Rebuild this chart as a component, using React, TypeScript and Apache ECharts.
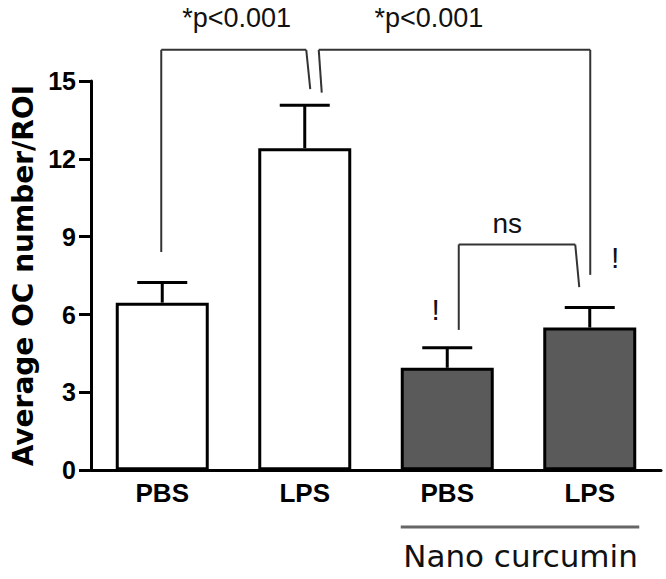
import React, { useEffect, useRef } from "react";
import * as echarts from "echarts";

const categories = ["PBS", "LPS", "PBS", "LPS"];
const means = [6.46, 12.41, 3.95, 5.5];
const upper = [7.24, 14.07, 4.72, 6.27];
const barFills = ["#ffffff", "#ffffff", "#5a5a5a", "#5a5a5a"];
const yTicks = { min: 0, max: 15, interval: 3 };
const yTitle = "Average OC number/ROI";
const groupLabel = "Nano curcumin";
const pLabel = "*p<0.001";
const nsLabel = "ns";

export default function App() {
  const ref = useRef<HTMLDivElement>(null);
  useEffect(() => {
    if (!ref.current) return;
    const chart = echarts.init(ref.current, null, { renderer: "svg" });
    const lineStyle = { stroke: "#333", lineWidth: 2 };
    chart.setOption({
      animation: false,
      grid: { left: 91, right: 5, top: 81, bottom: 108.7 },
      xAxis: {
        type: "category",
        data: categories,
        axisLine: { lineStyle: { color: "#000", width: 3 } },
        axisTick: { show: false },
        axisLabel: {
          color: "#000",
          fontFamily: "Liberation Sans",
          fontWeight: "bold",
          fontSize: 26,
          margin: 10,
        },
      },
      yAxis: {
        type: "value",
        min: yTicks.min,
        max: yTicks.max,
        interval: yTicks.interval,
        splitLine: { show: false },
        axisLine: { show: true, lineStyle: { color: "#000", width: 3 } },
        axisTick: { show: true, length: 12, lineStyle: { color: "#000", width: 3 } },
        axisLabel: {
          color: "#000",
          fontFamily: "Liberation Sans",
          fontWeight: "bold",
          fontSize: 25,
          margin: 15,
        },
        name: yTitle,
        nameLocation: "middle",
        nameGap: 50,
        nameTextStyle: {
          color: "#000",
          fontFamily: "DejaVu Sans",
          fontWeight: "bold",
          fontSize: 28,
        },
      },
      series: [
        {
          type: "bar",
          barWidth: 93,
          data: means.map((v, i) => ({
            value: v,
            itemStyle: { color: barFills[i], borderColor: "#000", borderWidth: 3 },
          })),
        },
        {
          type: "custom",
          data: means.map((m, i) => [i, m, upper[i]]),
          renderItem: (params: any, api: any) => {
            const x = api.value(0);
            const base = api.coord([x, api.value(1)]);
            const top = api.coord([x, api.value(2)]);
            const st = { stroke: "#000", lineWidth: 3 };
            return {
              type: "group",
              children: [
                { type: "line", shape: { x1: base[0], y1: base[1], x2: top[0], y2: top[1] }, style: st },
                { type: "line", shape: { x1: top[0] - 25, y1: top[1], x2: top[0] + 25, y2: top[1] }, style: st },
              ],
            };
          },
        },
        {
          type: "custom",
          data: [[0, 0]],
          z: 5,
          renderItem: (params: any, api: any) => {
            const cx = (c: number) => api.coord([c, 0])[0];
            const cy = (v: number) => api.coord([0, v])[1];
            const L = (x1: number, y1: number, x2: number, y2: number, s: any = lineStyle) => ({
              type: "line",
              shape: { x1, y1, x2, y2 },
              style: s,
            });
            const T = (text: string, x: number, y: number, size: number, family = "Liberation Sans") => ({
              type: "text",
              x,
              y,
              style: {
                text,
                fill: "#111",
                font: `${size}px "${family}"`,
                align: "center",
                verticalAlign: "middle",
              },
            });
            const topY = cy(16.2);
            const nsY = cy(8.7);
            return {
              type: "group",
              children: [
                // left bracket PBS-LPS
                L(cx(0) - 1, cy(8.41), cx(0) - 1, topY),
                L(cx(0) - 1, topY, cx(1) + 1.5, topY),
                L(cx(1) + 1.5, topY, cx(1) + 5.5, cy(14.69)),
                // right bracket LPS - Nano LPS
                L(cx(1) + 14, topY, cx(1) + 17, cy(14.55)),
                L(cx(1) + 14, topY, cx(3) + 0.5, topY),
                L(cx(3) + 0.5, topY, cx(3) + 0.5, cy(7.53)),
                // ns bracket
                L(cx(2) + 11.5, cy(5.41), cx(2) + 11.5, nsY),
                L(cx(2) + 11.5, nsY, cx(3) - 14.5, nsY),
                L(cx(3) - 14.5, nsY, cx(3) - 10.5, cy(7.06)),
                // group underline
                L(cx(2) - 46.5, cy(-2.185), cx(3) + 49.5, cy(-2.185), { stroke: "#666", lineWidth: 3 }),
                T(pLabel, cx(0) + 74.3, cy(17.42), 27),
                T(pLabel, cx(1) + 124.2, cy(17.42), 27),
                T(nsLabel, cx(2) + 60, cy(9.51), 28),
                T("!", cx(2) - 11.5, cy(6.2), 30),
                T("!", cx(3) + 25.5, cy(8.2), 30),
                T(groupLabel, (cx(2) + cx(3)) / 2 + 2, cy(-3.3), 31, "DejaVu Sans"),
              ],
            };
          },
        },
      ],
    });
    return () => chart.dispose();
  }, []);
  return <div ref={ref} style={{ width: 666, height: 579, position: "absolute", left: 0, top: 0 }} />;
}
